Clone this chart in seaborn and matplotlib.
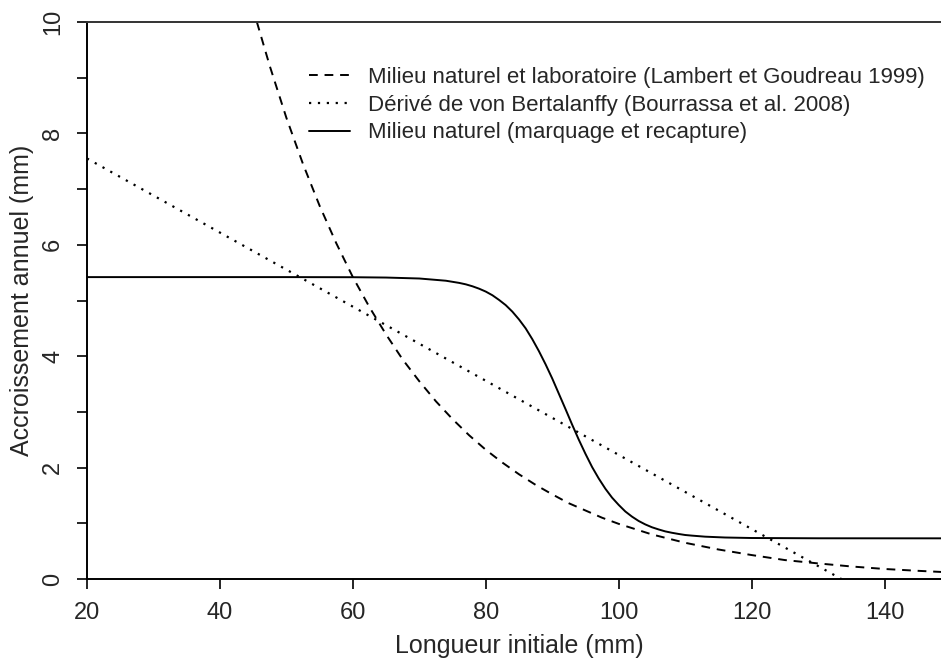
import matplotlib
matplotlib.use("Agg")
import matplotlib.pyplot as plt
import seaborn as sns
import pandas as pd
from matplotlib.lines import Line2D

# Dashed: Milieu naturel et laboratoire (Lambert et Goudreau 1999)
lab_x = [45.56, 47.5, 50, 52.5, 55, 57.5, 60, 62.5, 65, 67.5, 70, 72.5, 75, 77.5,
         80, 82.5, 85, 87.5, 90, 92.5, 95, 97.5, 100, 105, 110, 115, 120, 125,
         130, 135, 140, 145, 150]
lab_y = [10.0, 9.21, 8.28, 7.45, 6.70, 6.03, 5.42, 4.88, 4.39, 3.94, 3.55, 3.19,
         2.87, 2.58, 2.32, 2.09, 1.88, 1.69, 1.52, 1.36, 1.23, 1.10, 0.99, 0.80,
         0.65, 0.53, 0.43, 0.34, 0.28, 0.225, 0.18, 0.147, 0.118]

# Dotted: Dérivé de von Bertalanffy (Bourrassa et al. 2008)
vb_x = [20, 133.5]
vb_y = [7.55, 0.0]

# Solid: Milieu naturel (marquage et recapture)
mr_x = [20, 40, 50, 60, 65, 70, 74, 76, 77, 78, 79, 80, 81, 82, 83, 84, 85, 86,
        87, 88, 89, 90, 91, 92, 93, 94, 95, 96, 97, 98, 99, 100, 101, 102, 103,
        104, 105, 106, 107, 108, 109, 110, 111, 113, 116, 120, 130, 150]
mr_y = [5.42, 5.42, 5.42, 5.418, 5.412, 5.395, 5.355, 5.316, 5.29, 5.255, 5.212,
        5.16, 5.094, 5.01, 4.917, 4.80, 4.660, 4.50, 4.306, 4.09, 3.854, 3.60,
        3.325, 3.05, 2.770, 2.50, 2.247, 2.01, 1.804, 1.62, 1.461, 1.33, 1.212,
        1.12, 1.042, 0.98, 0.929, 0.89, 0.855, 0.83, 0.809, 0.79, 0.779, 0.76,
        0.745, 0.736, 0.731, 0.73]

legend_labels = ["Milieu naturel et laboratoire (Lambert et Goudreau 1999)",
                 "Dérivé de von Bertalanffy (Bourrassa et al. 2008)",
                 "Milieu naturel (marquage et recapture)"]
x_ticks = [20, 40, 60, 80, 100, 120, 140]
y_ticks = [0, 2, 4, 6, 8, 10]

sns.set_style("ticks")
plt.rcParams["font.family"] = ["Liberation Sans", "DejaVu Sans"]

W, H = 941, 658
fig = plt.figure(figsize=(W / 100, H / 100), dpi=100)
left, right, bottom, top = 87, 951, 579, 22
ax = fig.add_axes([left / W, (H - bottom) / H, (right - left) / W, (bottom - top) / H])

lw = 1.4
dash = (0, (4.5, 3.5))
dot = (0, (1, 3))
df_lab = pd.DataFrame({"x": lab_x, "y": lab_y})
df_vb = pd.DataFrame({"x": vb_x, "y": vb_y})
df_mr = pd.DataFrame({"x": mr_x, "y": mr_y})
sns.lineplot(data=df_lab, x="x", y="y", ax=ax, color="black", lw=lw,
             sort=False, estimator=None, linestyle=dash)
sns.lineplot(data=df_vb, x="x", y="y", ax=ax, color="black", lw=lw + 0.2,
             sort=False, estimator=None, linestyle=dot)
sns.lineplot(data=df_mr, x="x", y="y", ax=ax, color="black", lw=lw,
             sort=False, estimator=None, linestyle="-")

ax.set_xlim(20, 150)
ax.set_ylim(0, 10)
ax.set_xticks(x_ticks)
ax.set_yticks(y_ticks)
ax.set_yticks(list(range(0, 11)), minor=True)
ax.set_xticklabels([str(t) for t in x_ticks])
ax.set_yticklabels([str(t) for t in y_ticks], rotation=90, va="center")
ax.tick_params(axis="both", which="both", length=7.5, width=1.2, color="black",
               labelsize=17, pad=9)
ax.tick_params(axis="y", which="minor", labelleft=False)
for s in ["left", "top", "bottom"]:
    ax.spines[s].set_visible(True)
    ax.spines[s].set_linewidth(1.4)
    ax.spines[s].set_color("black")
ax.spines["right"].set_visible(False)
ax.spines["top"].set_color("#333333")

ax.set_xlabel("Longueur initiale (mm)", fontsize=18)
ax.set_ylabel("Accroissement annuel (mm)", fontsize=18)
ax.xaxis.set_label_coords((519 - left) / (right - left), -(646 - bottom) / (bottom - top))
ax.yaxis.set_label_coords(-(left - 22) / (right - left), 0.5)
ax.xaxis.label.set_va("center")
ax.yaxis.label.set_va("center")

handles = [Line2D([], [], color="black", lw=lw, linestyle=dash),
           Line2D([], [], color="black", lw=lw + 0.2, linestyle=dot),
           Line2D([], [], color="black", lw=lw, linestyle="-")]
fig.legend(handles, legend_labels, loc="upper left",
           bbox_to_anchor=(309 / W, 1 - 67 / H), frameon=False, fontsize=16,
           handlelength=1.85, handletextpad=0.8, borderpad=0, borderaxespad=0,
           labelspacing=0.3)

fig.savefig("out.png", dpi=100)
